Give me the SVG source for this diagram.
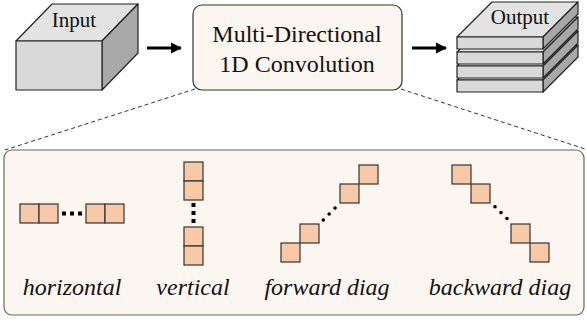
<svg xmlns="http://www.w3.org/2000/svg" width="587" height="322" viewBox="0 0 587 322">
<defs>
<style>
.face{stroke:#222;stroke-width:1.2;stroke-linejoin:round}
.front{fill:#d9d9d9}
.top{fill:#e3e3e3}
.side{fill:#a8a8a8}
.cell{fill:#f8c9a6;stroke:#333;stroke-width:1.2}
.lbl{font-family:"Liberation Serif","Times New Roman",serif;fill:#111}
.it{font-style:italic;font-size:24px}
.dots{stroke:#000;stroke-width:4;fill:none}
.rdots{stroke:#000;stroke-width:3.6;fill:none;stroke-linecap:round;stroke-dasharray:0 8.4}
.dash{stroke:#333;stroke-width:1;stroke-dasharray:4 3;fill:none}
</style>
<marker id="ah" viewBox="0 0 10 10" refX="9" refY="5" markerWidth="3.6" markerHeight="3.6" orient="auto" markerUnits="strokeWidth">
<path d="M0,0 L10,5 L0,10 z" fill="#000"/>
</marker>
</defs>
<rect width="587" height="322" fill="#fff"/>

<g id="connectors">
<line x1="147" y1="48" x2="181" y2="48" stroke="#000" stroke-width="3.2" marker-end="url(#ah)"/>
<line x1="412" y1="48" x2="446" y2="48" stroke="#000" stroke-width="3.2" marker-end="url(#ah)"/>
<line class="dash" x1="195" y1="89" x2="5" y2="150"/>
<line class="dash" x1="401" y1="89" x2="585" y2="149"/>
</g>

<g id="input">
<polygon class="face top" points="16,41 52,4 138,4 102,41"/>
<polygon class="face side" points="102,41 138,4 138,53 102,90"/>
<rect class="face front" x="16" y="41" width="86" height="49"/>
<text class="lbl" x="74" y="27" font-size="21" text-anchor="middle">Input</text>
</g>

<g id="conv">
<rect x="193" y="5" width="209" height="85" rx="9" fill="#fcf6f1" stroke="#333" stroke-width="1.2"/>
<text class="lbl" x="297" y="42" font-size="24" text-anchor="middle">Multi-Directional</text>
<text class="lbl" x="297" y="72" font-size="24" text-anchor="middle">1D Convolution</text>
</g>

<g id="output">
<polygon class="face top" points="457,80 492,45 578,45 543,80"/>
<polygon class="face side" points="543,80 578,45 578,57 543,92"/>
<rect class="face front" x="457" y="80" width="86" height="12"/>
<polygon class="face top" points="457,66 492,31 578,31 543,66"/>
<polygon class="face side" points="543,66 578,31 578,43 543,78"/>
<rect class="face front" x="457" y="66" width="86" height="12"/>
<polygon class="face top" points="457,52 492,17 578,17 543,52"/>
<polygon class="face side" points="543,52 578,17 578,29 543,64"/>
<rect class="face front" x="457" y="52" width="86" height="12"/>
<polygon class="face top" points="457,37 492,2 578,2 543,37"/>
<polygon class="face side" points="543,37 578,2 578,14 543,49"/>
<rect class="face front" x="457" y="37" width="86" height="12"/>
<text class="lbl" x="520" y="24" font-size="21" text-anchor="middle">Output</text>
</g>

<g id="panel">
<rect x="4" y="150" width="580" height="165" rx="8" fill="#fcf6f1" stroke="#666" stroke-width="1.2"/>
</g>

<g id="horizontal">
<rect class="cell" x="20" y="204" width="19" height="19"/>
<rect class="cell" x="39" y="204" width="19" height="19"/>
<line class="dots" x1="62" y1="213.5" x2="84" y2="213.5" stroke-dasharray="4 4"/>
<rect class="cell" x="86" y="204" width="19" height="19"/>
<rect class="cell" x="105" y="204" width="19" height="19"/>
<text class="lbl it" x="72" y="295" text-anchor="middle">horizontal</text>
</g>

<g id="vertical">
<rect class="cell" x="184" y="162" width="19" height="19"/>
<rect class="cell" x="184" y="181" width="19" height="19"/>
<line class="dots" x1="193.5" y1="203" x2="193.5" y2="225" stroke-dasharray="4 4"/>
<rect class="cell" x="184" y="227" width="19" height="19"/>
<rect class="cell" x="184" y="246" width="19" height="19"/>
<text class="lbl it" x="193" y="295" text-anchor="middle">vertical</text>
</g>

<g id="forward">
<rect class="cell" x="281" y="243" width="19" height="19"/>
<rect class="cell" x="300" y="224" width="19" height="19"/>
<line class="rdots" x1="323.3" y1="220" x2="337" y2="206"/>
<rect class="cell" x="340" y="184" width="19" height="19"/>
<rect class="cell" x="359" y="165" width="19" height="19"/>
<text class="lbl it" x="327" y="295" text-anchor="middle">forward diag</text>
</g>

<g id="backward">
<rect class="cell" x="452" y="165" width="19" height="19"/>
<rect class="cell" x="471" y="184" width="19" height="19"/>
<line class="rdots" x1="495" y1="206.7" x2="509" y2="220.5"/>
<rect class="cell" x="511" y="224" width="19" height="19"/>
<rect class="cell" x="530" y="243" width="19" height="19"/>
<text class="lbl it" x="500" y="295" text-anchor="middle">backward diag</text>
</g>
</svg>
